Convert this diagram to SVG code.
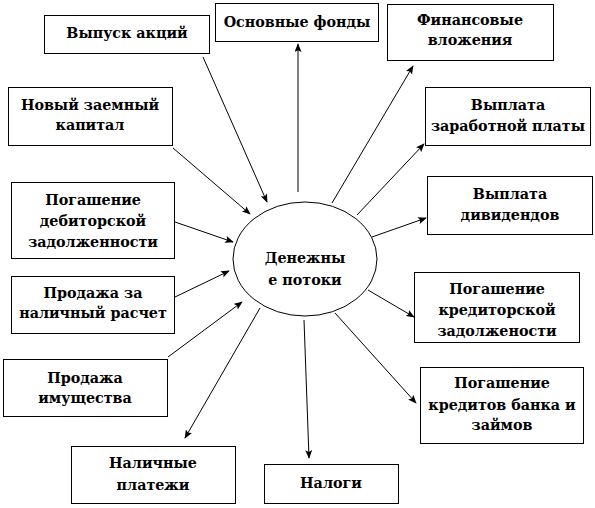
<svg xmlns="http://www.w3.org/2000/svg" width="595" height="508" viewBox="0 0 595 508">
<style>
.box{fill:#fff;stroke:#000;stroke-width:1}
.t{font-family:'DejaVu Serif',serif;font-weight:700;font-size:14.3px;fill:#000;text-anchor:middle}
.c line{stroke:#000;stroke-width:1}
</style>
<defs>
<marker id="a" viewBox="0 0 10 8" refX="9" refY="4" markerWidth="9" markerHeight="7" markerUnits="userSpaceOnUse" orient="auto">
<path d="M0,0 L10,4 L0,8 L2,4 z" fill="#000"/>
</marker>
</defs>
<rect width="595" height="508" fill="#fff"/>
<g class="c">
<line x1="203" y1="57" x2="267" y2="202" marker-end="url(#a)"/>
<line x1="173" y1="148" x2="250" y2="214" marker-end="url(#a)"/>
<line x1="175" y1="222" x2="233" y2="242" marker-end="url(#a)"/>
<line x1="175" y1="297" x2="229" y2="271" marker-end="url(#a)"/>
<line x1="168" y1="357" x2="242" y2="302" marker-end="url(#a)"/>
<line x1="298" y1="192" x2="298" y2="44" marker-end="url(#a)"/>
<line x1="332" y1="203" x2="413" y2="66" marker-end="url(#a)"/>
<line x1="357" y1="215" x2="424" y2="144" marker-end="url(#a)"/>
<line x1="372" y1="237" x2="426" y2="218" marker-end="url(#a)"/>
<line x1="368" y1="290" x2="414" y2="317" marker-end="url(#a)"/>
<line x1="335" y1="313" x2="416" y2="403" marker-end="url(#a)"/>
<line x1="304" y1="320" x2="309" y2="458" marker-end="url(#a)"/>
<line x1="260" y1="308" x2="185" y2="438" marker-end="url(#a)"/>
</g>
<g class="t">
<g id="center">
<ellipse cx="305" cy="259" rx="72" ry="57" fill="#fff" stroke="#000"/>
<text x="305" y="263">Денежны</text>
<text x="305" y="285">е потоки</text>
</g>
<g id="vypusk"><rect class="box" x="44.5" y="15.5" width="165" height="38"/><text x="127" y="38">Выпуск акций</text></g>
<g id="osnovnye"><rect class="box" x="215.5" y="3.5" width="163" height="38"/><text x="297" y="27">Основные фонды</text></g>
<g id="finans"><rect class="box" x="387.5" y="4.5" width="166" height="56"/><text x="470" y="25">Финансовые</text><text x="470" y="45">вложения</text></g>
<g id="zarplata"><rect class="box" x="425.5" y="87.5" width="165" height="58"/><text x="508" y="110">Выплата</text><text x="508" y="131">заработной платы</text></g>
<g id="novy"><rect class="box" x="8.5" y="87.5" width="164" height="58"/><text x="90" y="110">Новый заемный</text><text x="90" y="130">капитал</text></g>
<g id="debitor"><rect class="box" x="11.5" y="182.5" width="163" height="76"/><text x="93" y="205">Погашение</text><text x="93" y="226">дебиторской</text><text x="93" y="247">задолженности</text></g>
<g id="prodazha"><rect class="box" x="11.5" y="276.5" width="163" height="57"/><text x="93" y="298">Продажа за</text><text x="93" y="318">наличный расчет</text></g>
<g id="dividendy"><rect class="box" x="427.5" y="176.5" width="165" height="58"/><text x="510" y="199">Выплата</text><text x="510" y="220">дивидендов</text></g>
<g id="kreditor"><rect class="box" x="414.5" y="272.5" width="165" height="70"/><text x="497" y="294">Погашение</text><text x="497" y="315">кредиторской</text><text x="497" y="336">задолжености</text></g>
<g id="imushestvo"><rect class="box" x="3.5" y="359.5" width="164" height="57"/><text x="85" y="383">Продажа</text><text x="85" y="403">имущества</text></g>
<g id="nalichnye"><rect class="box" x="71.5" y="446.5" width="164" height="57"/><text x="153" y="468">Наличные</text><text x="153" y="490">платежи</text></g>
<g id="nalogi"><rect class="box" x="264.5" y="464.5" width="134" height="39"/><text x="331" y="488">Налоги</text></g>
<g id="krediti"><rect class="box" x="420.5" y="367.5" width="163" height="76"/><text x="502" y="388">Погашение</text><text x="502" y="410">кредитов банка и</text><text x="502" y="430">займов</text></g>
</g>
</svg>
